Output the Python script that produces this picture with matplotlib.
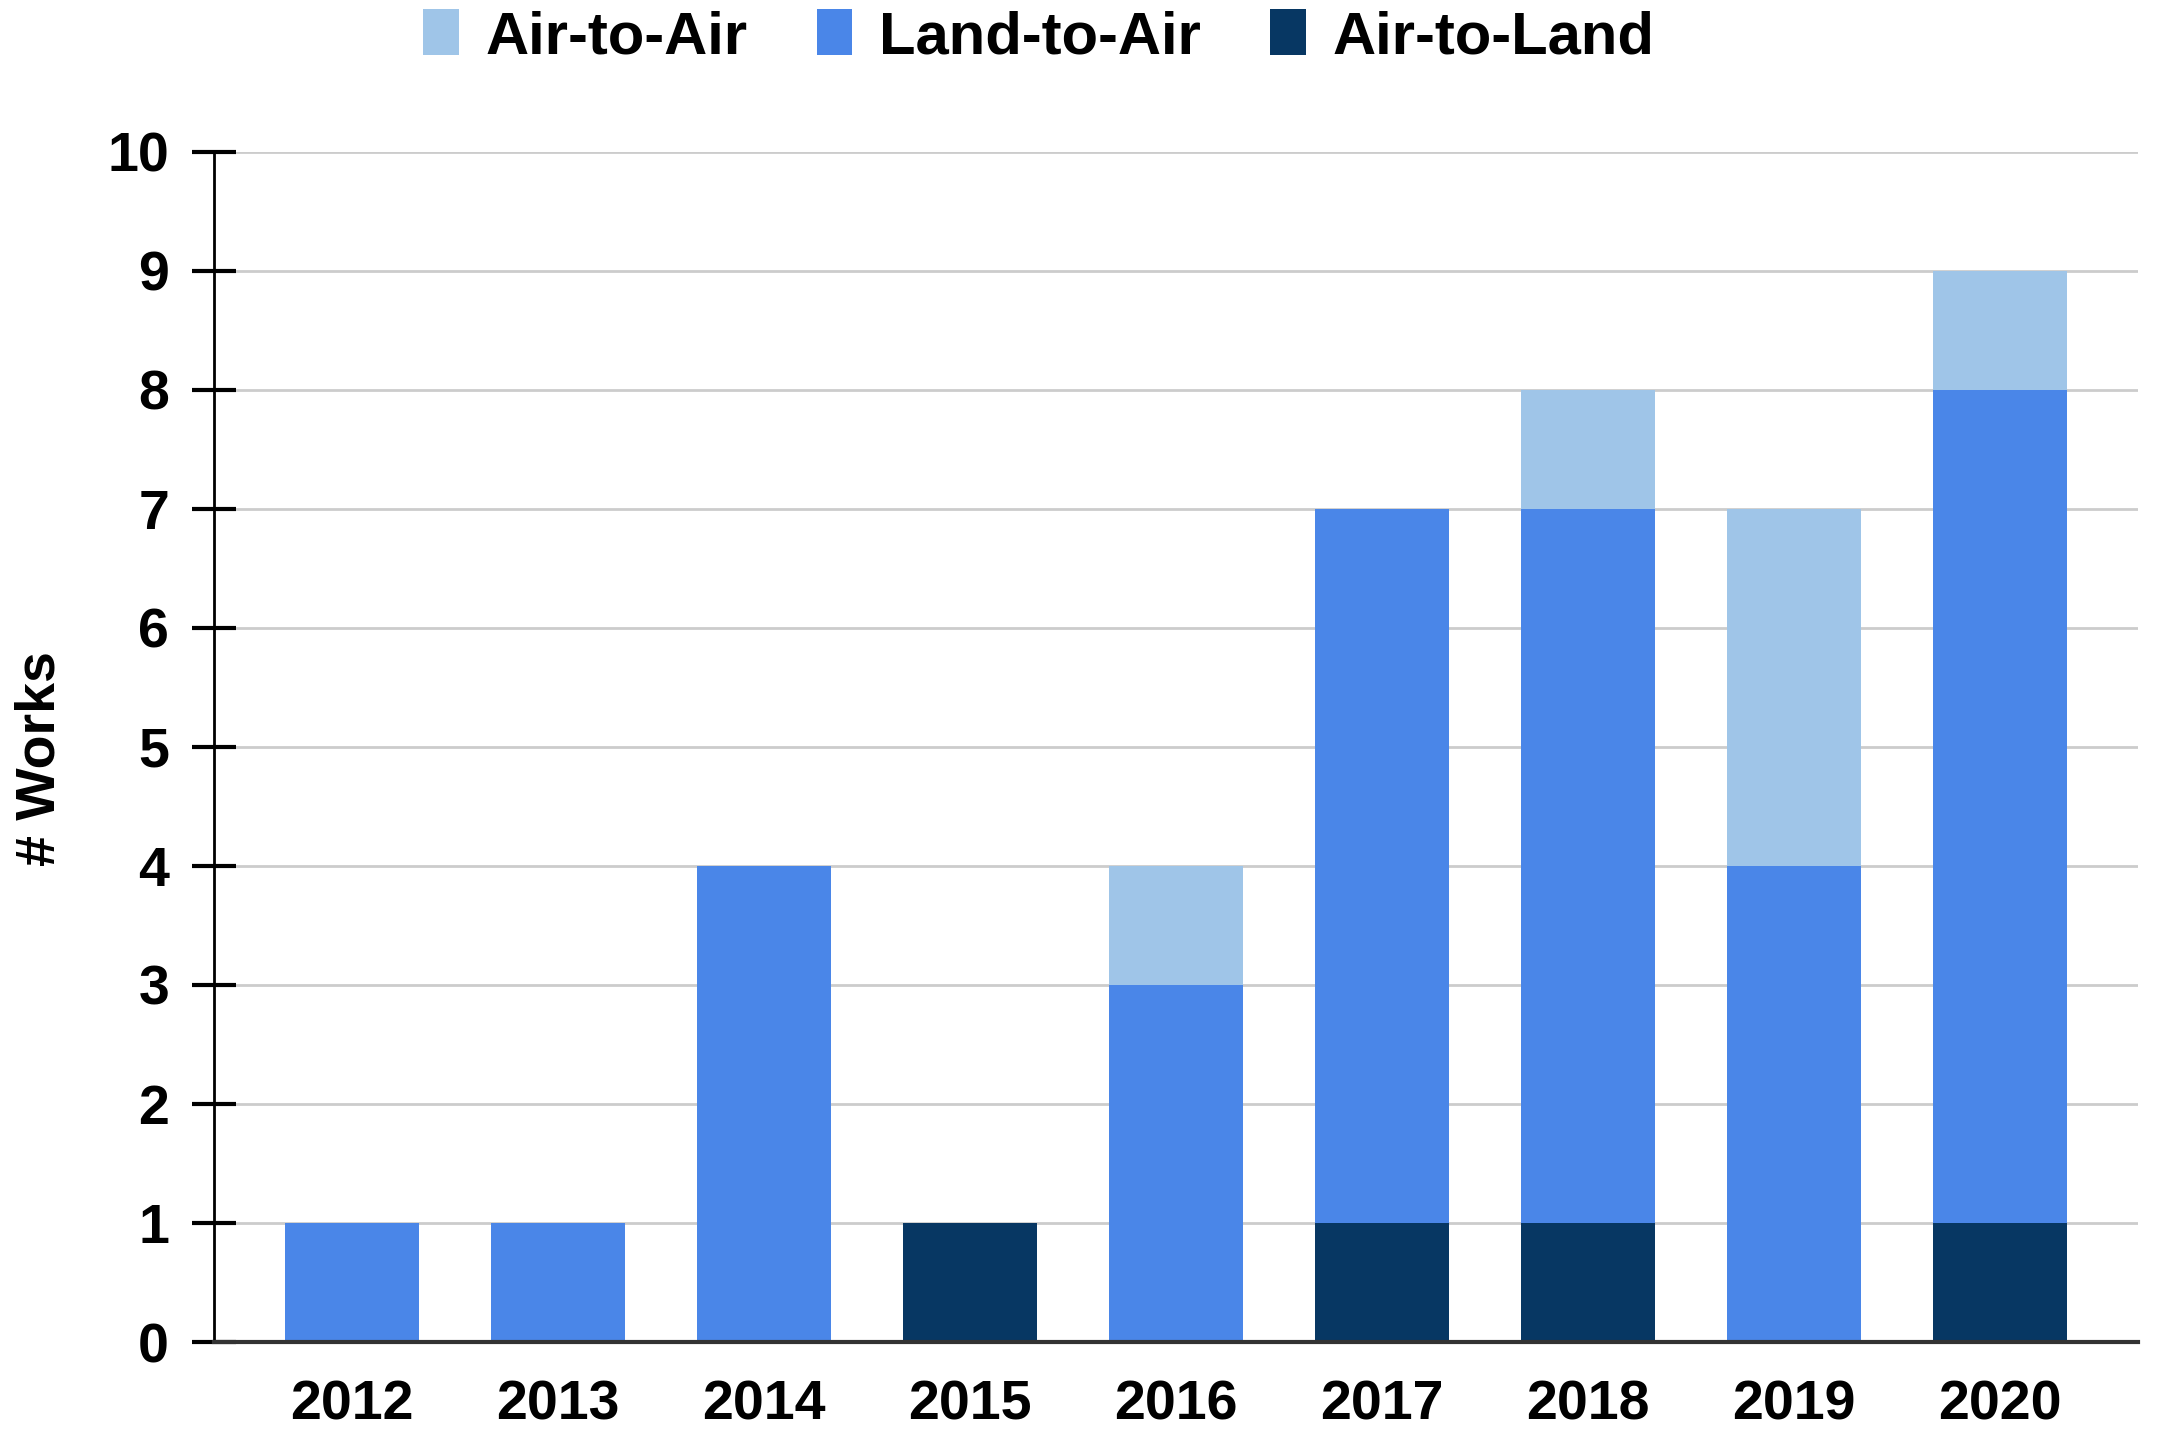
import numpy as np
from matplotlib import pyplot as plt

plt.rcParams['font.family'] = ['Liberation Sans', 'DejaVu Sans']
plt.rcParams['font.weight'] = 'bold'

years = ['2012', '2013', '2014', '2015', '2016', '2017', '2018', '2019', '2020']
air_to_land = [0, 0, 0, 1, 0, 1, 1, 0, 1]
land_to_air = [1, 1, 4, 0, 3, 6, 6, 4, 7]
air_to_air = [0, 0, 0, 0, 1, 0, 1, 3, 1]

c_light = '#9fc5e8'
c_mid = '#4a86e8'
c_dark = '#073763'

fig = plt.figure(figsize=(21.64, 14.33), dpi=100)
ax = fig.add_axes([0.099, 0.0635, 0.889, 0.8305])

x = np.arange(len(years))
w = 0.65
bottom2 = np.array(air_to_land)
bottom3 = bottom2 + np.array(land_to_air)

b_dark = ax.bar(x, air_to_land, w, color=c_dark, label='Air-to-Land', zorder=3)
b_mid = ax.bar(x, land_to_air, w, bottom=bottom2, color=c_mid, label='Land-to-Air', zorder=3)
b_light = ax.bar(x, air_to_air, w, bottom=bottom3, color=c_light, label='Air-to-Air', zorder=3)

ax.set_xlim(-0.67, len(years) - 1 + 0.67)
ax.set_ylim(0, 10)
ax.set_yticks(range(0, 11))
ax.set_xticks(x)
ax.set_xticklabels(years)

# grid
ax.yaxis.grid(True, color='#cccccc', linewidth=2, zorder=0)
ax.set_axisbelow(True)

for s in ['top', 'right']:
    ax.spines[s].set_visible(False)
ax.spines['left'].set_linewidth(2)
ax.spines['left'].set_color('black')
ax.spines['bottom'].set_linewidth(3)
ax.spines['bottom'].set_color('#333333')
ax.spines['bottom'].set_zorder(4)

ax.tick_params(axis='y', direction='inout', length=31, width=3, pad=17, labelsize=40)
ax.tick_params(axis='x', length=0, pad=27, labelsize=40)

ax.set_ylabel('# Works', fontsize=40, fontweight='bold')
ax.yaxis.set_label_coords(-0.077, 0.49)

fig.legend(handles=[b_light, b_mid, b_dark], labels=['Air-to-Air', 'Land-to-Air', 'Air-to-Land'],
           loc='center', bbox_to_anchor=(0.48, 0.974), ncol=3, frameon=False,
           fontsize=43, handlelength=0.6, handleheight=0.8, handletextpad=0.45, columnspacing=1.15)

plt.savefig('out.png', dpi=100)
plt.close()
